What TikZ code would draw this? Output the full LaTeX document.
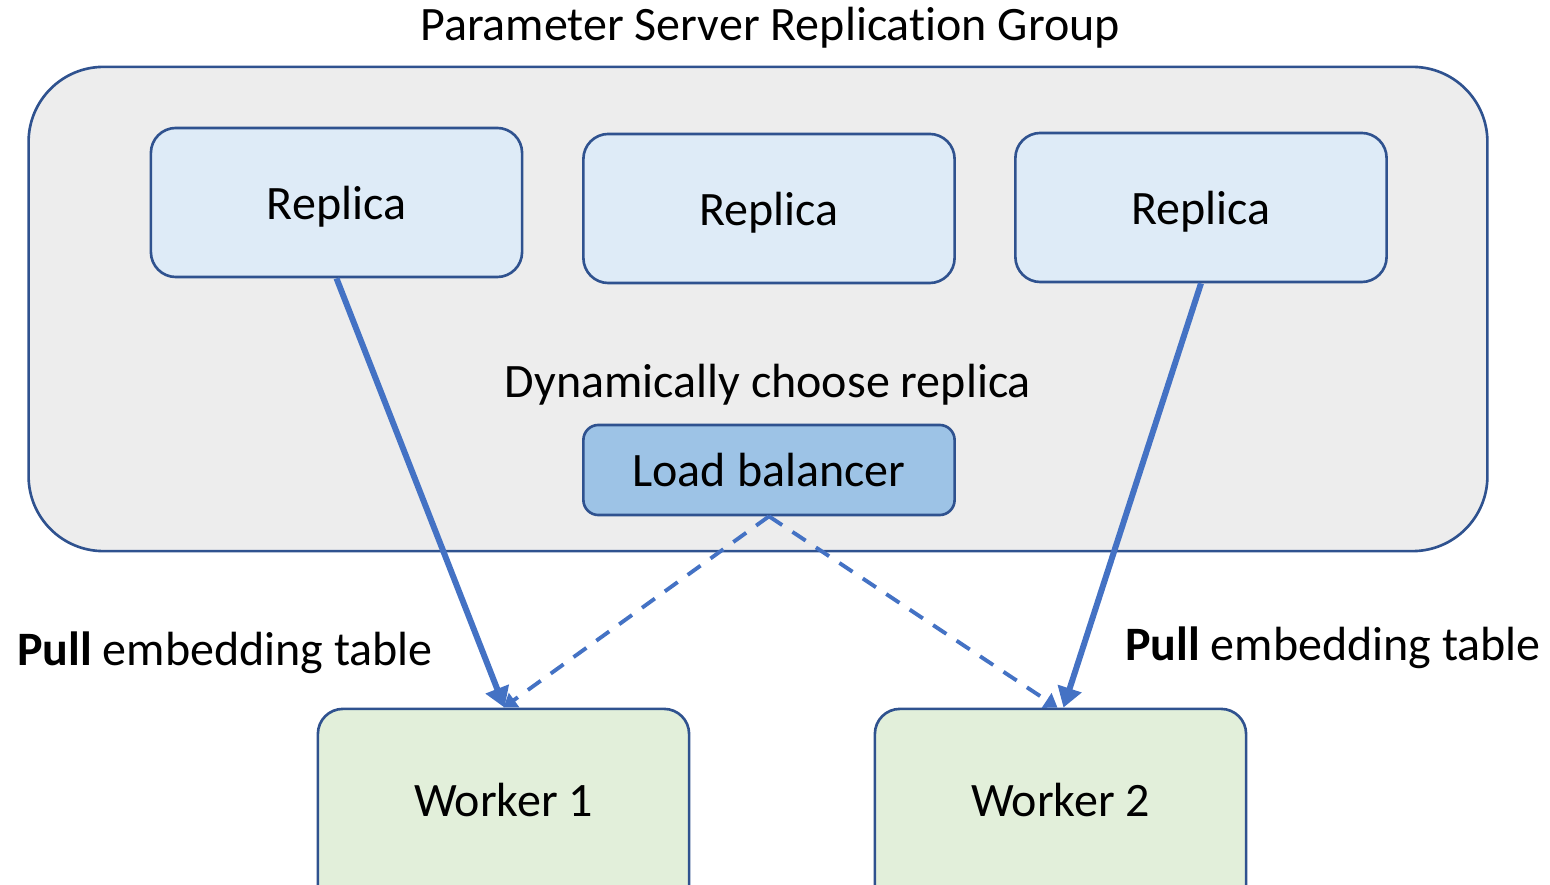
\documentclass[tikz,border=0pt]{standalone}
\usepackage{fontspec}
\setmainfont{Carlito}[Ligatures=NoCommon]
\usetikzlibrary{arrows.meta,calc}
\definecolor{edgeblue}{HTML}{2F528F}
\definecolor{arrowblue}{HTML}{4472C4}
\definecolor{groupgray}{HTML}{EDEDED}
\definecolor{replicafill}{HTML}{DEEBF7}
\definecolor{lbfill}{HTML}{9DC3E6}
\definecolor{workerfill}{HTML}{E2EFDA}
\tikzset{
  box/.style={draw=edgeblue, line width=0.75pt, rounded corners=0.25cm,
    minimum width=3.71cm, minimum height=1.49cm, inner sep=0pt,
    font=\fontsize{13.65}{16}\selectfont},
  replicabox/.style={box, fill=replicafill, text depth=0pt},
  workerbox/.style={box, fill=workerfill, minimum height=3.4cm},
  lbbox/.style={box, fill=lbfill, minimum height=0.9cm, rounded corners=0.15cm},
  label/.style={font=\fontsize{13.65}{16}\selectfont, inner sep=0pt},
  pull/.style={draw=arrowblue, line width=1.7pt,
    -{Triangle[length=0.2cm,width=0.24cm]}},
  route/.style={draw=arrowblue, line width=1.1pt, dash pattern=on 4.5pt off 3.5pt,
    -{Triangle[length=0.13cm,width=0.17cm]}}
}
\begin{document}
\begin{tikzpicture}[x=0.01cm,y=-0.01cm]
\useasboundingbox (0,0) rectangle (1550,885);
\clip (0,0) rectangle (1550,885);
% replication group
\node[draw=edgeblue, line width=0.75pt, fill=groupgray, rounded corners=0.75cm,
  minimum width=14.58cm, minimum height=4.84cm, inner sep=0pt] (group) at (758,309) {};
\node[label] (title) at (770,28) {Parameter Server Replication Group};
% replicas
\node[replicabox] (r1) at (336.5,202.5) {Replica};
\node[replicabox] (r2) at (769,208.5) {Replica};
\node[replicabox] (r3) at (1201,207.5) {Replica};
% load balancer
\node[label] (dyn) at (768,385) {Dynamically choose replica};
\node[lbbox] (lb) at (769,470) {Load balancer};
% workers
\node[workerbox] (w1) at (503.5,879) {};
\node[workerbox] (w2) at (1060.5,879) {};
\node[label] (w1t) at (503.5,800) {Worker 1};
\node[label] (w2t) at (1060.5,800) {Worker 2};
% connectors
\draw[pull] (r1.south) -- ($(w1.north)+(1,0)$);
\draw[pull] (r3.south) -- ($(w2.north)+(3,0)$);
\draw[route] (lb.south) -- (w1.north);
\draw[route] (lb.south) -- ($(w2.north)+(-3,0)$);
% labels
\node[label] (p1) at (225,653) {\textbf{Pull} embedding table};
\node[label] (p2) at (1333,648) {\textbf{Pull} embedding table};
\end{tikzpicture}
\end{document}
